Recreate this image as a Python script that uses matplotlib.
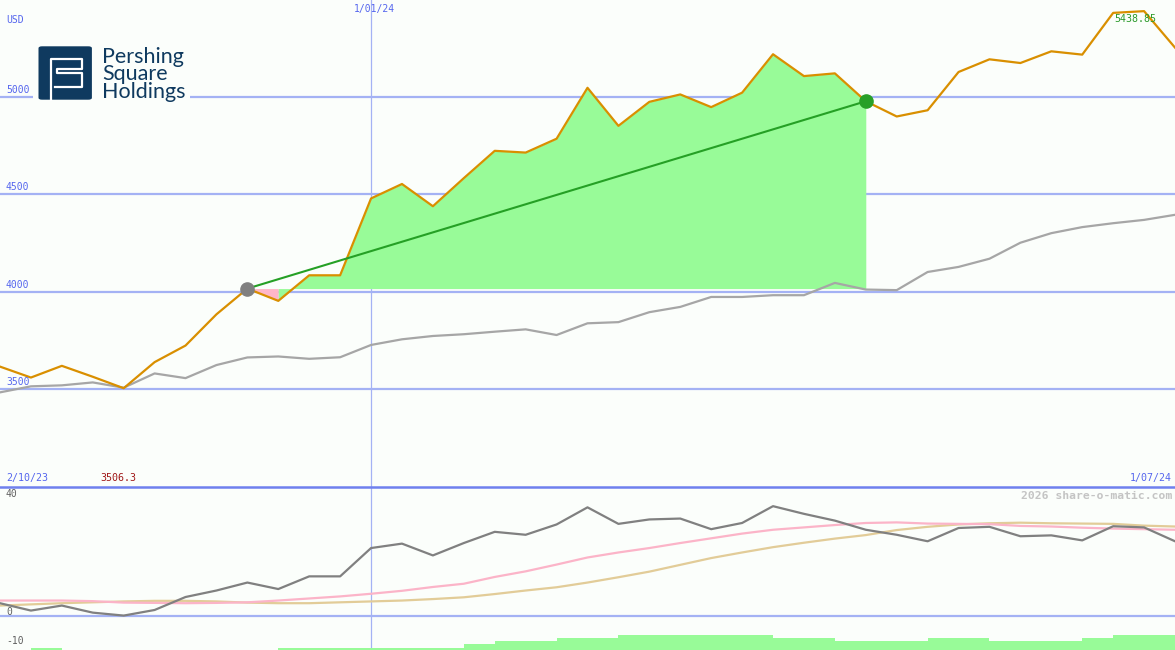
import matplotlib
matplotlib.use("Agg")
import matplotlib.pyplot as plt
import matplotlib.transforms as mtransforms
from matplotlib.patches import FancyBboxPatch, Rectangle
from matplotlib.lines import Line2D
import numpy as np

# weekly closes (USD), index 0 = first week shown, 12 = 1/01/24, 38 = 1/07/24
price = [3617, 3561, 3621, 3565, 3506.3, 3640, 3725, 3885, 4017, 3954,
         4085, 4085, 4479, 4553, 4439, 4583, 4723, 4714, 4785, 5046,
         4851, 4974, 5012, 4947, 5021, 5218, 5106, 5120, 4977, 4899,
         4931, 5127, 5192, 5173, 5233, 5216, 5430, 5438.85, 5252]
# benchmark rebased to the same currency
benchmark = [3485, 3516, 3521, 3536, 3509, 3582, 3558, 3625, 3664, 3669,
             3657, 3665, 3728, 3757, 3774, 3783, 3796, 3808, 3779, 3839,
             3845, 3896, 3923, 3974, 3974, 3983, 3983, 4046, 4012, 4009,
             4102, 4128, 4170, 4252, 4301, 4332, 4352, 4369, 4395]

# lower panel
perf = [4.2, 1.7, 3.4, 1.0, 0.0, 1.9, 6.3, 8.5, 11.2, 9.0,
        13.3, 13.3, 22.9, 24.4, 20.4, 24.6, 28.4, 27.4, 30.9, 36.7,
        31.1, 32.6, 32.9, 29.3, 31.4, 37.1, 34.5, 32.2, 29.1, 27.4,
        25.2, 29.7, 30.1, 26.9, 27.2, 25.5, 30.3, 29.9, 25.2]
ma_fast = [5.1, 5.1, 5.1, 4.9, 4.4, 4.3, 4.2, 4.3, 4.5, 5.1,
           5.8, 6.5, 7.4, 8.4, 9.7, 10.8, 13.1, 15.0, 17.3, 19.7,
           21.4, 22.9, 24.6, 26.2, 27.8, 29.1, 29.9, 30.7, 31.4, 31.6,
           31.2, 31.1, 31.0, 30.4, 30.2, 29.8, 29.5, 29.3, 29.1]
ma_slow = [3.4, 3.8, 4.2, 4.5, 4.8, 5.0, 5.0, 4.8, 4.4, 4.2,
           4.2, 4.5, 4.8, 5.1, 5.6, 6.2, 7.3, 8.5, 9.6, 11.2,
           13.0, 14.9, 17.2, 19.5, 21.4, 23.2, 24.7, 26.1, 27.3, 29.0,
           30.1, 30.9, 31.3, 31.5, 31.3, 31.2, 31.1, 30.5, 30.2]
nan = np.nan
bars = ([nan, -10.9] + [nan] * 7 + [-10.9] * 6 + [-9.5, -8.6, -8.6, -7.6, -7.6]
        + [-6.5] * 5 + [-7.6, -7.6] + [-8.6] * 3 + [-7.6, -7.6] + [-8.6] * 3
        + [-7.6, -6.5, -6.5])

main_ticks = [3500, 4000, 4500, 5000]
low_ticks = [40, 0, -10]
date_marker = 12
trade_start, trade_end = 8, 28

BG = "#fbfefb"
GRID = "#a4b2f4"
SEP = "#6f80ee"
LBL = "#5566ee"
MONO = "DejaVu Sans Mono"

W, H = 1175, 650
fig = plt.figure(figsize=(W / 100, H / 100), dpi=100, facecolor=BG)
split = 163 / H
ax = fig.add_axes([0, split, 1, 1 - split])
ax2 = fig.add_axes([0, 0, 1, split])
for a in (ax, ax2):
    a.set_axis_off()
    a.set_xlim(0, len(price) - 1)

x = np.arange(len(price))
p = np.array(price, dtype=float)

# ── main panel ──
ax.set_ylim(3000, 5496)
for t in main_ticks:
    ax.axhline(t, color=GRID, lw=1.6, zorder=1)
ax.axvline(date_marker, color=GRID, lw=0.9, zorder=1)

base = p[trade_start]
seg = x[trade_start:trade_end + 1]
pseg = p[trade_start:trade_end + 1]
ax.fill_between(seg, pseg, base, where=seg <= trade_start + 1,
                color="#ffb6c8", lw=0, zorder=2)
ax.fill_between(seg, pseg, base, where=seg >= trade_start + 1,
                color="#98fb98", lw=0, zorder=2)

ax.plot(x, benchmark, color="#a6a6a6", lw=1.6, zorder=3)
ax.plot(x, p, color="#d98f00", lw=1.6, zorder=4)
ax.plot([trade_start, trade_end], [p[trade_start], p[trade_end]],
        color="#25a025", lw=1.5, zorder=5)
ax.plot(trade_start, p[trade_start], "o", ms=9.5, color="#808080", zorder=6)
ax.plot(trade_end, p[trade_end], "o", ms=9.5, color="#28a028", zorder=6)

ylab = mtransforms.offset_copy(ax.get_yaxis_transform(), fig=fig,
                               x=6, y=2, units="dots")
for t in main_ticks:
    ax.text(0, t, str(t), transform=ylab, ha="left", va="bottom",
            fontsize=7, family=MONO, color=LBL, zorder=7)

imax = int(np.argmax(p))
ax.text(imax - 0.9, p[imax], f"{p[imax]:.2f}", ha="left", va="top",
        fontsize=7.2, family=MONO, color="#2a9a2a", zorder=7,
        transform=mtransforms.offset_copy(ax.transData, fig=fig, x=-2, y=-3,
                                          units="dots"))

top = mtransforms.offset_copy(ax.get_xaxis_transform(), fig=fig,
                              x=3, y=-9, units="dots")
ax.text(date_marker, 1, "1/01/24", transform=top, ha="center", va="center",
        fontsize=7, family=MONO, color=LBL)
fig.text(6 / W, 1 - 20 / H, "USD", ha="left", va="center",
         fontsize=7, family=MONO, color=LBL)

# separator & footer labels
fig.add_artist(Line2D([0, 1], [split, split], transform=fig.transFigure,
                      color=SEP, lw=1.8, zorder=5))
fig.text(6 / W, 1 - 478 / H, "2/10/23", ha="left", va="center",
         fontsize=7.2, family=MONO, color=LBL)
fig.text(100 / W, 1 - 478 / H, f"{min(price)}", ha="left", va="center",
         fontsize=7.2, family=MONO, color="#a01818")
fig.text(1172 / W, 1 - 478 / H, "1/07/24", ha="right", va="center",
         fontsize=7.2, family=MONO, color=LBL)

# ── lower panel ──
ax2.set_ylim(-11.67, 43.6)
ax2.axhline(0, color=GRID, lw=1.6, zorder=1)
ax2.axvline(date_marker, color=GRID, lw=0.9, zorder=1)
bar_floor = -12
ax2.bar(x[:-1], np.array(bars) - bar_floor, bottom=bar_floor, width=1.0,
        align="edge", color="#98fb98", lw=0, zorder=2)
ax2.plot(x, ma_slow, color="#e2cc98", lw=1.6, zorder=3)
ax2.plot(x, ma_fast, color="#fbb4c8", lw=1.6, zorder=3)
ax2.plot(x, perf, color="#808080", lw=1.6, zorder=4)

ylab2 = mtransforms.offset_copy(ax2.get_yaxis_transform(), fig=fig,
                                x=6, y=4, units="dots")
for t in low_ticks:
    ax2.text(0, t, str(t), transform=ylab2, ha="left", va="center",
             fontsize=7, family=MONO, color="#606060")
fig.text(1172 / W, 1 - 496 / H, "2026 share-o-matic.com", ha="right",
         va="center", fontsize=8.2, family=MONO, weight="bold",
         color="#c4c4c4")

# ── logo ──
def fx(px):
    return px / W


def fy(py):
    return 1 - py / H


fig.add_artist(Rectangle((fx(33), fy(106)), fx(190) - fx(33), fy(40) - fy(106),
                         transform=fig.transFigure, color=BG, lw=0, zorder=4))
NAVY = "#0f3a5f"
sq_x, sq_y, sq = 38.5, 46.3, 53.4
fig.add_artist(FancyBboxPatch((fx(sq_x), fy(sq_y + sq)), fx(sq), sq / H,
                              boxstyle="round,pad=0,rounding_size=0.003",
                              transform=fig.transFigure, color=NAVY, lw=0,
                              zorder=5))
path = [(0.23, 1.0), (0.23, 0.23), (0.81, 0.23), (0.81, 0.42), (0.34, 0.42),
        (0.34, 0.50), (0.81, 0.50), (0.81, 0.77), (0.31, 0.77)]
fig.add_artist(Line2D([fx(sq_x + u * sq) for u, v in path],
                      [fy(sq_y + v * sq) for u, v in path],
                      transform=fig.transFigure, color="white", lw=1.6,
                      solid_joinstyle="round", zorder=6))
fig.text(fx(102), fy(97.5), "Pershing\nSquare\nHoldings", ha="left",
         va="baseline", fontsize=15.5, family="Lato", color=NAVY,
         linespacing=0.82, zorder=6)

fig.savefig("out.png", dpi=100, facecolor=BG)
